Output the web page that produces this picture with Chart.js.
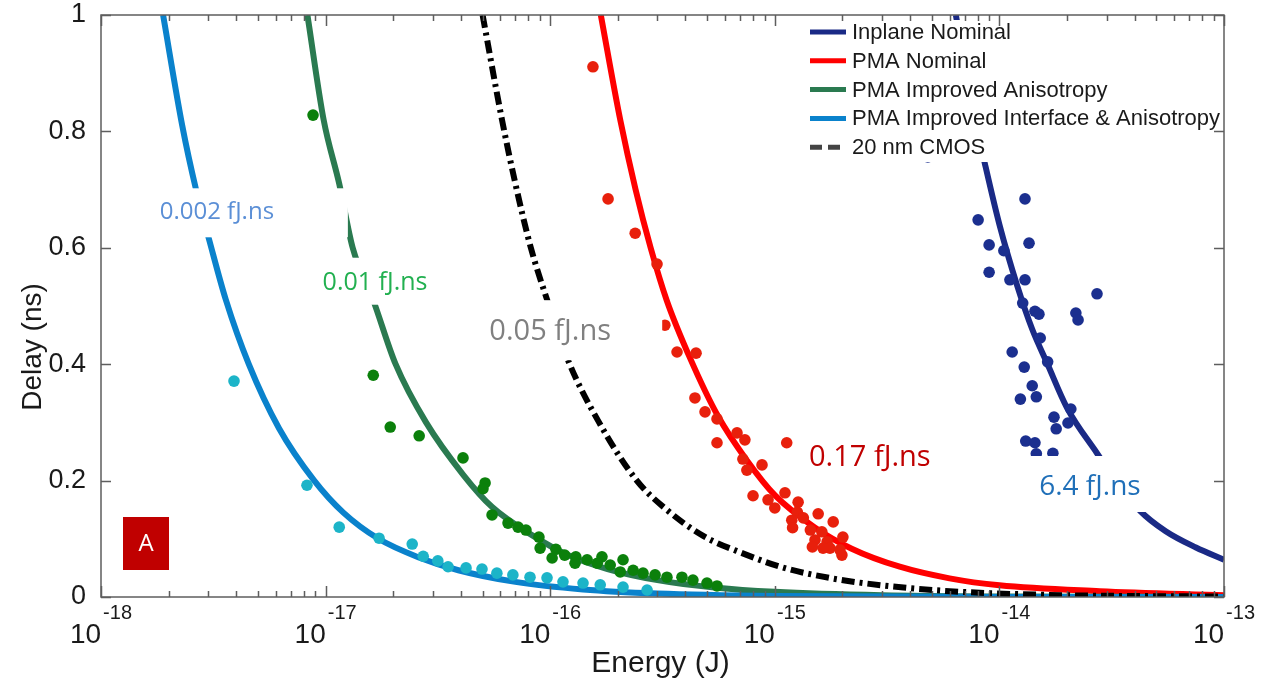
<!DOCTYPE html>
<html>
<head>
<meta charset="utf-8">
<script src="https://cdn.jsdelivr.net/npm/chart.js@4.4.1/dist/chart.umd.min.js"></script>
<style>
  html, body { margin: 0; padding: 0; background: #fff; }
  canvas { display: block; }
</style>
</head>
<body>
<canvas id="edpChart" width="1267" height="682"></canvas>
<script>
// fitted curves, [energy (J), delay (ns)]
const inplaneFit = [[6.4e-15, 1.0], [7.4e-15, 0.86], [8.6e-15, 0.746], [1.0e-14, 0.64], [1.2e-14, 0.535],
  [1.4e-14, 0.46], [1.63e-14, 0.402], [2.0e-14, 0.325], [2.72e-14, 0.247], [3.3e-14, 0.2],
  [4.23e-14, 0.148], [5.5e-14, 0.113], [7.5e-14, 0.085], [1e-13, 0.064]];
const pmaNominalFit = [[1.68e-16, 1.0], [2.05e-16, 0.82], [2.4e-16, 0.7], [2.8e-16, 0.6], [3.3e-16, 0.51],
  [4.2e-16, 0.41], [5.6e-16, 0.31], [7.5e-16, 0.235], [1e-15, 0.175], [1.5e-15, 0.12],
  [2.2e-15, 0.083], [3.6e-15, 0.052], [6e-15, 0.032], [1e-14, 0.02], [2.8e-14, 0.01], [1e-13, 0.0028]];
const pmaAnisoFit = [[8.3e-18, 1.0], [9.8e-18, 0.82], [1.15e-17, 0.71], [1.32e-17, 0.6], [1.63e-17, 0.51],
  [2.05e-17, 0.4], [2.8e-17, 0.3], [4.1e-17, 0.21], [5.5e-17, 0.155], [8.4e-17, 0.105],
  [1.2e-16, 0.072], [1.8e-16, 0.048], [3e-16, 0.029], [5.5e-16, 0.016], [1e-15, 0.009],
  [3e-15, 0.003], [1e-14, 0.0009], [1e-13, 0.00009]];
const pmaInterfaceFit = [[1.89e-18, 1.0], [2.3e-18, 0.81], [2.65e-18, 0.70], [3.05e-18, 0.61], [3.6e-18, 0.51],
  [4.55e-18, 0.40], [6.2e-18, 0.29], [8.9e-18, 0.2], [1.2e-17, 0.145], [1.72e-17, 0.1],
  [2.6e-17, 0.068], [3.9e-17, 0.046], [7e-17, 0.026], [1.4e-16, 0.013], [3e-16, 0.006],
  [1e-15, 0.0018], [1e-14, 0.0002], [1e-13, 0.00002]];
const cmosFit = [[5e-17, 1.0], [6.1e-17, 0.82], [7e-17, 0.71], [8.2e-17, 0.6], [9.7e-17, 0.51],
  [1.2e-16, 0.407], [1.65e-16, 0.3], [2.43e-16, 0.2], [3.3e-16, 0.15], [4.8e-16, 0.105],
  [7.2e-16, 0.075], [1.1e-15, 0.05], [1.8e-15, 0.032], [3e-15, 0.02], [6e-15, 0.01],
  [1.5e-14, 0.004], [1e-13, 0.0006]];

// simulated points, [energy (J), delay (ns)]
const inplanePts = [[4.8e-15, 0.756], [8.04e-15, 0.648], [1.30e-14, 0.684], [9.0e-15, 0.605], [1.355e-14, 0.608],
  [1.047e-14, 0.595], [9.0e-15, 0.558], [1.114e-14, 0.545], [1.30e-14, 0.545], [1.27e-14, 0.505],
  [1.44e-14, 0.491], [1.50e-14, 0.486], [2.72e-14, 0.521], [2.19e-14, 0.488], [2.24e-14, 0.476],
  [1.52e-14, 0.445], [1.14e-14, 0.421], [1.29e-14, 0.395], [1.64e-14, 0.404], [1.40e-14, 0.363],
  [1.46e-14, 0.344], [1.24e-14, 0.340], [2.08e-14, 0.323], [1.75e-14, 0.309], [2.02e-14, 0.299],
  [1.79e-14, 0.289], [1.31e-14, 0.268], [1.44e-14, 0.265], [1.46e-14, 0.246], [1.73e-14, 0.247]];
const pmaNominalPts = [[1.55e-16, 0.911], [1.81e-16, 0.684], [2.39e-16, 0.625], [2.99e-16, 0.572], [3.24e-16, 0.467],
  [3.67e-16, 0.421], [4.46e-16, 0.419], [4.41e-16, 0.342], [4.89e-16, 0.318], [5.53e-16, 0.306],
  [6.79e-16, 0.282], [7.36e-16, 0.270], [5.53e-16, 0.265], [1.13e-15, 0.265], [7.21e-16, 0.237],
  [8.77e-16, 0.227], [7.51e-16, 0.218], [8.0e-16, 0.174], [9.33e-16, 0.167], [1.11e-15, 0.179],
  [1.0e-15, 0.153], [1.27e-15, 0.163], [1.26e-15, 0.146], [1.19e-15, 0.132], [1.34e-15, 0.136],
  [1.56e-15, 0.143], [1.82e-15, 0.129], [1.2e-15, 0.119], [1.44e-15, 0.115], [1.62e-15, 0.112],
  [1.51e-15, 0.098], [1.71e-15, 0.095], [2.01e-15, 0.103], [1.76e-15, 0.084], [1.95e-15, 0.081],
  [1.64e-15, 0.084], [1.99e-15, 0.072], [1.47e-15, 0.086]];
const pmaAnisoPts = [[8.79e-18, 0.828], [1.63e-17, 0.381], [1.94e-17, 0.292], [2.61e-17, 0.277], [4.09e-17, 0.239],
  [5.13e-17, 0.196], [5.02e-17, 0.186], [5.51e-17, 0.141], [6.49e-17, 0.127], [7.19e-17, 0.120],
  [7.80e-17, 0.115], [8.91e-17, 0.103], [9.02e-17, 0.084], [1.06e-16, 0.082], [1.02e-16, 0.067],
  [1.16e-16, 0.072], [1.30e-16, 0.069], [1.29e-16, 0.058], [1.46e-16, 0.064], [1.70e-16, 0.069],
  [1.62e-16, 0.058], [1.85e-16, 0.055], [2.11e-16, 0.064], [2.05e-16, 0.043], [2.34e-16, 0.046],
  [2.59e-16, 0.041], [2.93e-16, 0.038], [3.31e-16, 0.034], [3.86e-16, 0.034], [4.32e-16, 0.029],
  [4.99e-16, 0.024], [5.53e-16, 0.019]];
const pmaInterfacePts = [[3.91e-18, 0.371], [8.26e-18, 0.192], [1.15e-17, 0.120], [1.73e-17, 0.101], [2.43e-17, 0.091],
  [2.72e-17, 0.070], [3.16e-17, 0.062], [3.51e-17, 0.052], [4.22e-17, 0.050], [4.97e-17, 0.048],
  [5.79e-17, 0.041], [6.82e-17, 0.038], [8.13e-17, 0.034], [9.68e-17, 0.033], [1.14e-16, 0.026],
  [1.40e-16, 0.024], [1.67e-16, 0.021], [2.11e-16, 0.017], [2.70e-16, 0.012]];

const seriesNames = ['Inplane Nominal', 'PMA Nominal', 'PMA Improved Anisotropy',
  'PMA Improved Interface & Anisotropy', '20 nm CMOS'];
const xTickExps = [-18, -17, -16, -15, -14, -13];
const yTicks = [0, 0.2, 0.4, 0.6, 0.8, 1];
const edpLabels = ['0.002 fJ.ns', '0.01 fJ.ns', '0.05 fJ.ns', '0.17 fJ.ns', '6.4 fJ.ns'];
const edpAnchors = [[3.28e-18, 0.661], [1.66e-17, 0.540], [1e-16, 0.455], [2.65e-15, 0.239], [2.53e-14, 0.189]];

// styles
const lineColors = ['#1a2a86', '#ff0000', '#2a7a50', '#0a82cc', '#000000'];
const dotColors = ['#1b2f8f', '#e8200c', '#0b800b', '#1cb4c8'];
const edpStyle = [
  { color: '#5b8fd6', size: 24, box: [-62, -24, 193, 49] },
  { color: '#22b050', size: 25, box: [-63, -25, 128, 47] },
  { color: '#808080', size: 29, box: [-70, -32, 182, 60] },
  { color: '#c00000', size: 29, box: [-70, -23, 140, 47] },
  { color: '#1f6fb8', size: 28, box: [-65, -31, 130, 56] }
];
const cmosDash = [13, 5, 3, 5];

const toXY = arr => arr.map(([x, y]) => ({ x, y }));
const fits = [inplaneFit, pmaNominalFit, pmaAnisoFit, pmaInterfaceFit, cmosFit];
const pts = [inplanePts, pmaNominalPts, pmaAnisoPts, pmaInterfacePts];

const datasets = [];
fits.forEach((f, i) => {
  datasets.push({
    label: seriesNames[i],
    data: toXY(f),
    showLine: true,
    pointRadius: 0,
    borderColor: lineColors[i],
    backgroundColor: lineColors[i],
    borderWidth: 6,
    borderDash: i === 4 ? cmosDash : [],
    cubicInterpolationMode: 'monotone',
    clip: 0,
    order: 5 - i + 1
  });
});
pts.forEach((p, i) => {
  datasets.push({
    label: seriesNames[i] + ' data',
    data: toXY(p),
    showLine: false,
    pointRadius: 5.8,
    borderWidth: 0,
    backgroundColor: dotColors[i],
    clip: 0,
    order: 0
  });
});

const decor = {
  id: 'decor',
  afterDatasetsDraw(chart) {
    const { ctx, chartArea: a, scales } = chart;
    const xs = scales.x, ys = scales.y;
    ctx.save();
    ctx.beginPath();
    ctx.rect(a.left, a.top, a.right - a.left, a.bottom - a.top);
    ctx.clip();

    // EDP annotations on white boxes
    edpLabels.forEach((txt, i) => {
      const st = edpStyle[i];
      const cx = xs.getPixelForValue(edpAnchors[i][0]);
      const cy = ys.getPixelForValue(edpAnchors[i][1]);
      ctx.fillStyle = '#fff';
      ctx.fillRect(cx + st.box[0], cy + st.box[1], st.box[2], st.box[3]);
      ctx.font = st.size + 'px "Open Sans"';
      ctx.fillStyle = st.color;
      ctx.textAlign = 'center';
      ctx.textBaseline = 'middle';
      ctx.fillText(txt, cx, cy);
    });

    // legend
    const lx = a.right - 419, ly = a.top + 5;
    ctx.fillStyle = '#fff';
    ctx.fillRect(lx, ly, 417, 142);
    ctx.font = '22px "Liberation Sans"';
    ctx.textAlign = 'left';
    ctx.textBaseline = 'middle';
    seriesNames.forEach((name, i) => {
      const y = a.top + 17 + i * 28.8;
      ctx.beginPath();
      ctx.lineWidth = 5;
      ctx.strokeStyle = i === 4 ? '#444' : lineColors[i];
      ctx.setLineDash(i === 4 ? [12, 6] : []);
      ctx.moveTo(lx + 5, y);
      ctx.lineTo(lx + 41, y);
      ctx.stroke();
      ctx.setLineDash([]);
      ctx.fillStyle = '#1a1a1a';
      ctx.fillText(name, lx + 47, y + 1);
    });

    // panel tag
    ctx.fillStyle = '#c00000';
    ctx.fillRect(a.left + 22, a.bottom - 80, 46, 53);
    ctx.fillStyle = '#fff';
    ctx.font = '24px "Open Sans"';
    ctx.textAlign = 'center';
    ctx.fillText('A', a.left + 45, a.bottom - 53);
    ctx.restore();
  },
  afterDraw(chart) {
    const { ctx, chartArea: a, scales } = chart;
    const xs = scales.x, ys = scales.y;
    ctx.save();
    ctx.strokeStyle = '#5e5e5e';
    ctx.lineWidth = 1.5;
    ctx.strokeRect(a.left, a.top, a.right - a.left, a.bottom - a.top);

    ctx.beginPath();
    yTicks.forEach(v => {
      const py = Math.round(ys.getPixelForValue(v)) + 0.5;
      ctx.moveTo(a.left, py); ctx.lineTo(a.left + 10, py);
      ctx.moveTo(a.right, py); ctx.lineTo(a.right - 10, py);
    });
    xTickExps.forEach((e, k) => {
      const px = Math.round(xs.getPixelForValue(Math.pow(10, e))) + 0.5;
      ctx.moveTo(px, a.bottom); ctx.lineTo(px, a.bottom - 11);
      ctx.moveTo(px, a.top); ctx.lineTo(px, a.top + 11);
      if (k < xTickExps.length - 1) {
        for (let m = 2; m <= 9; m++) {
          const q = Math.round(xs.getPixelForValue(m * Math.pow(10, e))) + 0.5;
          ctx.moveTo(q, a.bottom); ctx.lineTo(q, a.bottom - 6);
          ctx.moveTo(q, a.top); ctx.lineTo(q, a.top + 6);
        }
      }
    });
    ctx.stroke();

    // x tick labels 10^n
    ctx.fillStyle = '#1a1a1a';
    ctx.textAlign = 'left';
    ctx.textBaseline = 'alphabetic';
    xTickExps.forEach(e => {
      const px = xs.getPixelForValue(Math.pow(10, e));
      ctx.font = '28px "Liberation Sans"';
      const w10 = ctx.measureText('10').width;
      ctx.font = '20px "Liberation Sans"';
      const exp = '-' + Math.abs(e);
      const we = ctx.measureText(exp).width;
      const x0 = px - (w10 + we + 2) / 2;
      ctx.font = '28px "Liberation Sans"';
      ctx.fillText('10', x0, a.bottom + 46);
      ctx.font = '20px "Liberation Sans"';
      ctx.fillText(exp, x0 + w10 + 2, a.bottom + 22);
    });

    // axis titles
    ctx.textAlign = 'center';
    ctx.font = '30px "Liberation Sans"';
    ctx.fillText('Energy (J)', (a.left + a.right) / 2 - 2, a.bottom + 75);
    ctx.save();
    ctx.translate(41, a.top + 332);
    ctx.rotate(-Math.PI / 2);
    ctx.font = '28px "Liberation Sans"';
    ctx.fillText('Delay (ns)', 0, 0);
    ctx.restore();
    ctx.restore();
  }
};

new Chart(document.getElementById('edpChart'), {
  type: 'scatter',
  data: { datasets: datasets },
  options: {
    responsive: false,
    animation: false,
    devicePixelRatio: 1,
    layout: { padding: { top: 15, right: 43, bottom: 0, left: 0 } },
    plugins: { legend: { display: false }, tooltip: { enabled: false } },
    scales: {
      x: {
        type: 'logarithmic',
        min: 1e-18,
        max: 1e-13,
        grid: { display: false, drawTicks: false },
        border: { display: false },
        ticks: { display: false },
        afterFit: s => { s.height = 85; s.paddingLeft = 0; s.paddingRight = 0; }
      },
      y: {
        type: 'linear',
        min: 0,
        max: 1,
        grid: { display: false, drawTicks: false },
        border: { display: false },
        afterBuildTicks: s => { s.ticks = yTicks.map(v => ({ value: v })); },
        ticks: {
          padding: 15,
          color: '#1a1a1a',
          font: { family: 'Liberation Sans', size: 27 },
          callback: v => String(v)
        },
        afterFit: s => { s.width = 101; s.paddingTop = 0; s.paddingBottom = 0; }
      }
    }
  },
  plugins: [decor]
});
</script>
</body>
</html>
